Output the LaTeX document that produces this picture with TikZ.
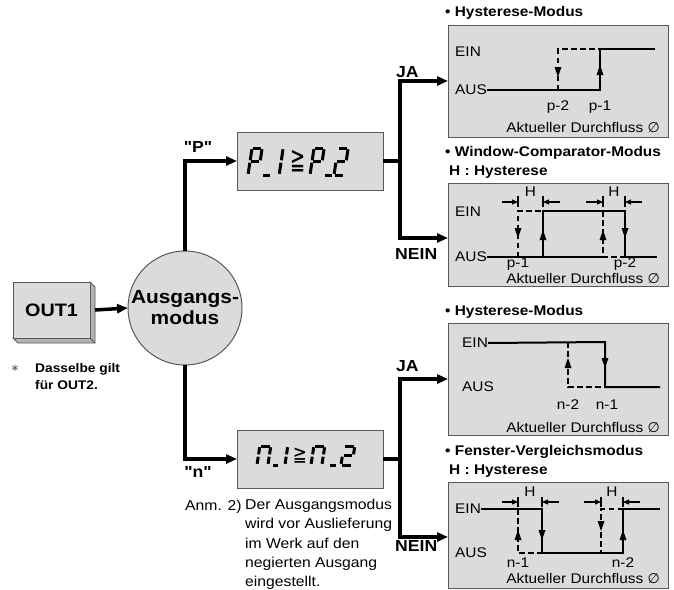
\documentclass[tikz,border=0pt]{standalone}
\usepackage{fontspec}
\setmainfont{Liberation Sans}[FakeStretch=1.1, Ligatures=TeXOff]
\newfontfamily\symf{DejaVu Sans}
\usetikzlibrary{arrows.meta}
\newcommand\fsz[1]{\fontsize{#1}{#1}\selectfont}
% seven segment helpers
\def\W{0.75}
\newcommand\ssa{\draw[seg] (0,-2) -- (\W,-2);}
\newcommand\ssb{\draw[seg] (\W,-2) -- (\W,-1);}
\newcommand\ssc{\draw[seg] (\W,-1) -- (\W,0);}
\newcommand\ssd{\draw[seg] (0,0) -- (\W,0);}
\newcommand\sse{\draw[seg] (0,0) -- (0,-1);}
\newcommand\ssf{\draw[seg] (0,-1) -- (0,-2);}
\newcommand\ssg{\draw[seg] (0,-1) -- (\W,-1);}
\newcommand\segs[4]{\begin{scope}[shift={(#1,#2)}, x=#3pt, y=-#3pt, xslant=0.15]#4\end{scope}}
\newcommand\tu[2]{\fill (#1,#2) -- ++(-3.5,10) -- ++(7,0) -- cycle;}
\newcommand\td[2]{\fill (#1,#2) -- ++(-3.5,-10) -- ++(7,0) -- cycle;}
\begin{document}
\begin{tikzpicture}[x=1pt,y=-1pt,
  box/.style={draw=black!65, fill=black!14, line width=1pt, inner sep=0, outer sep=0},
  conn/.style={line width=3.5pt, -{Triangle[length=11pt,width=9pt]}},
  cline/.style={line width=3.5pt},
  sig/.style={line width=2pt},
  dsig/.style={line width=2pt, dash pattern=on 5.5pt off 3.5pt},
  hdim/.style={line width=1.1pt, -{Triangle[length=6pt,width=5pt]}},
  tick/.style={line width=1.1pt},
  lbl/.style={font=\fsz{14}, inner sep=0},
  ttl/.style={font=\fsz{14}\bfseries, inner sep=0, anchor=west},
  bl/.style={font=\fsz{16}\bfseries, inner sep=0},
  seg/.style={line width=3pt, shorten <=1.2pt, shorten >=1.2pt}]
\useasboundingbox (0,0) rectangle (674,589);

% OUT1 3D box
\fill[black!30, draw=black!65, line width=0.8pt] (90,282) -- (95,287) -- (95,343) -- (18,343) -- (13,338) -- (90,338) -- cycle;
\draw[black!65, line width=0.8pt] (90,338) -- (95,343);
\node[box, minimum width=77pt, minimum height=56pt, font=\fsz{18}\bfseries] (out1) at (51.5,310) {OUT1};
\coordinate (o1r) at (95,310);
\node[inner sep=0, font=\fsz{10}\symf, text=black!70] (star) at (15,368) {∗};
\node[inner sep=0, anchor=west, align=left, font=\fontsize{12.5}{17}\selectfont\bfseries] (same) at (35,376.5) {Dasselbe gilt\\für OUT2.};

% circle
\node[circle, box, minimum size=114pt, align=center, font=\fontsize{19}{21}\selectfont\bfseries] (circ) at (185,308) {Ausgangs-\\modus};
\draw[conn] (o1r) -- (circ.west);

% display boxes
\node[box, minimum width=146pt, minimum height=58pt] (pbox) at (310,161) {};
\node[box, minimum width=146pt, minimum height=58pt] (nbox) at (310,459) {};
\draw[conn] (circ.north) |- (pbox.west);
\draw[conn] (circ.south) |- (nbox.west);
\node[bl] (plbl) at (198,147) {"P"};
\node[bl] (nlbl) at (198,472) {"n"};

% P_1 >= P_2
\def\W{0.75}
\segs{248}{175}{13.5}{\ssa\ssb\ssf\sse\ssg}
\segs{262}{175}{13.5}{\draw[seg] (0,0) -- (0.7,0);}
\segs{269}{175}{13.5}{\ssb\ssc}
\node[inner sep=0, font=\fsz{30}\symf, xscale=0.6] (pge) at (298.5,161) {≧};
\segs{310}{175}{13.5}{\ssa\ssb\ssf\sse\ssg}
\segs{324}{175}{13.5}{\draw[seg] (0,0) -- (0.7,0);}
\segs{334}{175}{13.5}{\ssa\ssb\ssg\sse\ssd}

% n_1 >= n_2
\def\W{1.15}
\segs{257}{465}{9.5}{\ssa\ssb\ssc\sse\ssf}
\segs{272}{465}{9.5}{\draw[seg] (0,0) -- (0.8,0);}
\segs{274}{465}{9.5}{\ssb\ssc}
\node[inner sep=0, font=\fsz{21}\symf, xscale=0.8] (nge) at (300,456) {≧};
\segs{311}{465}{9.5}{\ssa\ssb\ssc\sse\ssf}
\segs{329}{465}{9.5}{\draw[seg] (0,0) -- (0.85,0);}
\segs{341}{465}{9.5}{\ssa\ssb\ssg\sse\ssd}

% note
\node[inner sep=0, anchor=west, font=\fsz{14.3}] (anm) at (185,507) {Anm. 2)};
\node[inner sep=0, anchor=north west, align=left, font=\fontsize{14.3}{19.3}\selectfont] (note) at (245,499) {Der Ausgangsmodus\\wird vor Auslieferung\\im Werk auf den\\negierten Ausgang\\eingestellt.};

% chart boxes
\node[box, minimum width=220pt, minimum height=112pt] (b1) at (558,81) {};
\node[box, minimum width=220pt, minimum height=103pt] (b2) at (558,234.5) {};
\node[box, minimum width=220pt, minimum height=112pt] (b3) at (558,379) {};
\node[box, minimum width=220pt, minimum height=106pt] (b4) at (558,535) {};

% branching connectors
\coordinate (pj) at (400,161);
\coordinate (nj) at (400,459);
\draw[cline] (pbox.east) -- (pj);
\draw[conn] (pj) |- (b1.west);
\draw[conn] (pj) |- ([yshift=-3.5pt]b2.west);
\draw[cline] (nbox.east) -- (nj);
\draw[conn] (nj) |- (b3.west);
\draw[conn] (nj) |- ([yshift=-2pt]b4.west);
\node[bl, anchor=west] (ja1) at (396,72) {JA};
\node[bl, anchor=west] (nein1) at (395,254) {NEIN};
\node[bl, anchor=west] (ja2) at (396,366) {JA};
\node[bl, anchor=west] (nein2) at (395,546) {NEIN};

% titles
\node[ttl] (t1) at (445,13) {• Hysterese-Modus};
\node[ttl] (t2) at (445,153) {• Window-Comparator-Modus};
\node[ttl] (t2b) at (449,172) {H : Hysterese};
\node[ttl] (t3) at (445,312) {• Hysterese-Modus};
\node[ttl] (t4) at (445,452) {• Fenster-Vergleichsmodus};
\node[ttl] (t4b) at (449,471) {H : Hysterese};

% ---- chart 1
\node[lbl, anchor=west] (ein1) at (455,52) {EIN};
\node[lbl, anchor=west] (aus1) at (455,90) {AUS};
\draw[sig] (aus1.east) -- (600,90) -- (600,49) -- (655,49);
\draw[dsig] (558,90) -- (558,49) -- (600,49);
\td{558}{77} \tu{600}{65}
\node[lbl] at (558,107) {p-2};
\node[lbl] at (600,107) {p-1};
\node[lbl, anchor=east] at (660,127) {Aktueller Durchfluss {\symf ∅}};

% ---- chart 2
\node[lbl, anchor=west] (ein2) at (455,212) {EIN};
\node[lbl, anchor=west] (aus2) at (455,257) {AUS};
\draw[sig] (aus2.east) -- (603,257);
\draw[sig] (543,257) -- (543,211) -- (625,211) -- (625,257) -- (657,257);
\draw[dsig] (518,257) -- (518,211) -- (543,211);
\draw[dsig] (603,211) -- (603,257) -- (625,257);
\td{518}{238} \tu{543}{230} \tu{603}{230} \td{625}{238}
\foreach \xx in {518,543,603,625} \draw[tick] (\xx,196) -- (\xx,207);
\draw[hdim] (502,202) -- (518,202);
\draw[hdim] (560,202) -- (543,202);
\draw[hdim] (586,202) -- (603,202);
\draw[hdim] (642,202) -- (625,202);
\node[lbl] at (530.5,192) {H};
\node[lbl] at (614,192) {H};
\node[lbl] at (518,264) {p-1};
\node[lbl] at (625,264) {p-2};
\node[lbl, anchor=east] at (660,278) {Aktueller Durchfluss {\symf ∅}};

% ---- chart 3
\node[lbl, anchor=west] (ein3) at (462,343) {EIN};
\node[lbl, anchor=west] (aus3) at (462,387) {AUS};
\draw[sig] (ein3.east) -- (605,342) -- (605,387) -- (660,387);
\draw[dsig] (568,342) -- (568,387) -- (605,387);
\tu{568}{358} \td{605}{368}
\node[lbl] at (568,405) {n-2};
\node[lbl] at (607,405) {n-1};
\node[lbl, anchor=east] at (660,427) {Aktueller Durchfluss {\symf ∅}};

% ---- chart 4
\node[lbl, anchor=west] (ein4) at (455,509) {EIN};
\node[lbl, anchor=west] (aus4) at (455,553) {AUS};
\draw[sig] (ein4.east) -- (542,509) -- (542,553) -- (623,553) -- (623,509) -- (660,509);
\draw[dsig] (518,509) -- (518,553) -- (542,553);
\draw[dsig] (623,509) -- (601,509) -- (601,553);
\tu{518}{530} \td{542}{540} \td{601}{531} \tu{623}{530}
\foreach \xx in {518,542,601,623} \draw[tick] (\xx,497) -- (\xx,507);
\draw[hdim] (502,502) -- (518,502);
\draw[hdim] (559,502) -- (542,502);
\draw[hdim] (584,502) -- (601,502);
\draw[hdim] (640,502) -- (623,502);
\node[lbl] at (530,492) {H};
\node[lbl] at (612,492) {H};
\node[lbl] at (518,563) {n-1};
\node[lbl] at (623,563) {n-2};
\node[lbl, anchor=east] at (660,578) {Aktueller Durchfluss {\symf ∅}};
\end{tikzpicture}
\end{document}
